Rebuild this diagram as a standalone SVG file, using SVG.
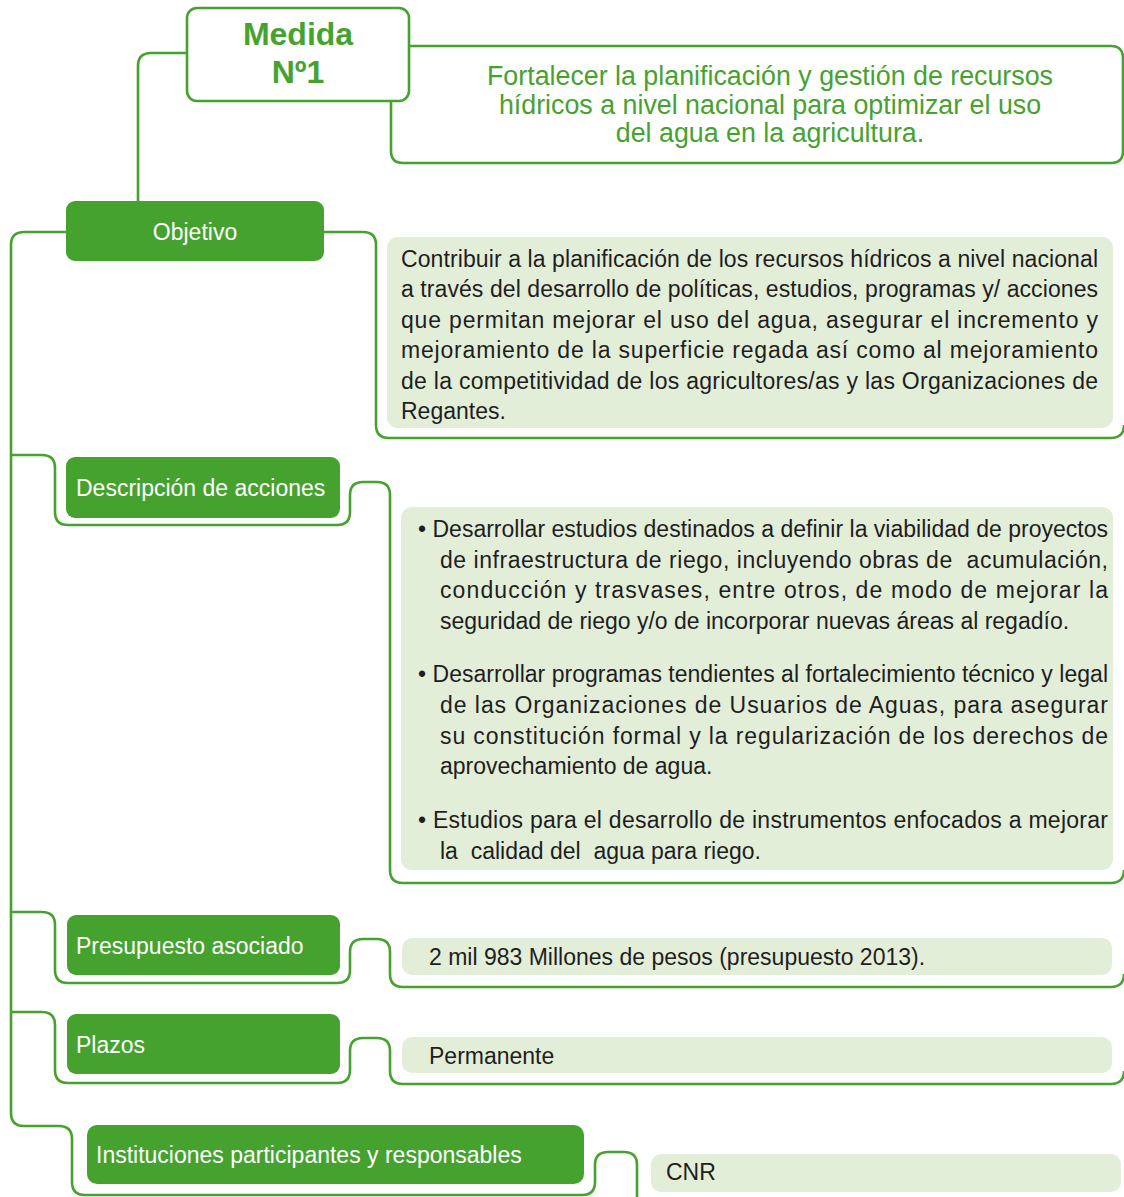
<svg xmlns="http://www.w3.org/2000/svg" width="1124" height="1197" viewBox="0 0 1124 1197">
<style>
.ln{fill:none;stroke:#46a22f;stroke-width:2.6;stroke-linejoin:round}
.lab{fill:#46a22f}
.labt{font-family:"Liberation Sans",Arial,sans-serif;font-size:23px;fill:#ffffff}
.box{fill:#e3eed9}
.t{font-family:"Liberation Sans",Arial,sans-serif;font-size:23px;fill:#1e1e1e;white-space:pre}
.gt{font-family:"Liberation Sans",Arial,sans-serif;font-size:26.8px;fill:#46a22f;text-anchor:middle}
.mt{font-family:"Liberation Sans",Arial,sans-serif;font-size:32px;font-weight:bold;fill:#46a22f;text-anchor:middle}
</style>
<rect width="1124" height="1197" fill="#ffffff"/>
<g id="connectors">
<path class="ln" d="M187,53 H151 Q138,53 138,66 V201"/>
<path class="ln" d="M409,46 H1111 Q1123,46 1123,58 V151 Q1123,163 1111,163 H403 Q391,163 391,151 V101"/>
<path class="ln" d="M66,232 H24 Q11,232 11,245 V1113 Q11,1126 24,1126 H59 Q72,1126 72,1139 V1182 Q72,1195 85,1195 H582 Q595,1195 595,1182 V1165 Q595,1152 608,1152 H624 Q637,1152 637,1165 V1200"/>
<path class="ln" d="M324,232 H363 Q376,232 376,245 V425 Q376,438 389,438 H1111 Q1124,438 1124,425"/>
<path class="ln" d="M11,455 H42 Q55,455 55,468 V512 Q55,525 68,525 H337 Q350,525 350,512 V495 Q350,482 363,482 H377 Q390,482 390,495 V870 Q390,883 403,883 H1111 Q1124,883 1124,870"/>
<path class="ln" d="M11,912 H42 Q55,912 55,925 V970 Q55,983 68,983 H337 Q350,983 350,970 V952 Q350,939 363,939 H377 Q390,939 390,952 V974 Q390,987 403,987 H1111 Q1124,987 1124,974"/>
<path class="ln" d="M11,1012 H42 Q55,1012 55,1025 V1070 Q55,1083 68,1083 H337 Q350,1083 350,1070 V1051 Q350,1038 363,1038 H377 Q390,1038 390,1051 V1071 Q390,1084 403,1084 H1111 Q1124,1084 1124,1071"/>
</g>
<g id="medida">
<rect x="187" y="8" width="222" height="93" rx="10" fill="#ffffff" stroke="#46a22f" stroke-width="2.6"/>
<text class="mt" x="298" y="45">Medida</text>
<text class="mt" x="298" y="83">Nº1</text>
</g>
<g id="titulo">
<text class="gt" x="770" y="85">Fortalecer la planificación y gestión de recursos</text>
<text class="gt" x="770" y="114">hídricos a nivel nacional para optimizar el uso</text>
<text class="gt" x="770" y="142">del agua en la agricultura.</text>
</g>
<g id="objetivo">
<rect class="lab" x="66" y="201" width="258" height="60" rx="9"/>
<text class="labt" x="195" y="240" text-anchor="middle">Objetivo</text>
</g>
<g id="objetivo-texto">
<rect class="box" x="387" y="237" width="726" height="191" rx="11"/>
<text class="t" x="401" y="267" textLength="697" lengthAdjust="spacing">Contribuir a la planificación de los recursos hídricos a nivel nacional</text>
<text class="t" x="401" y="297" textLength="697" lengthAdjust="spacing">a través del desarrollo de políticas, estudios, programas y/ acciones</text>
<text class="t" x="401" y="328" textLength="697" lengthAdjust="spacing">que permitan mejorar el uso del agua, asegurar el incremento y</text>
<text class="t" x="401" y="358" textLength="697" lengthAdjust="spacing">mejoramiento de la superficie regada así como al mejoramiento</text>
<text class="t" x="401" y="389" textLength="697" lengthAdjust="spacing">de la competitividad de los agricultores/as y las Organizaciones de</text>
<text class="t" x="401" y="419">Regantes.</text>
</g>
<g id="descripcion">
<rect class="lab" x="66" y="457" width="274" height="61" rx="9"/>
<text class="labt" x="76" y="496">Descripción de acciones</text>
</g>
<g id="descripcion-texto">
<rect class="box" x="401" y="507" width="712" height="363" rx="11"/>
<text class="t" x="418" y="537" textLength="690" lengthAdjust="spacing">• Desarrollar estudios destinados a definir la viabilidad de proyectos</text>
<text class="t" x="440" y="568" textLength="668" lengthAdjust="spacing">de infraestructura de riego, incluyendo obras de  acumulación,</text>
<text class="t" x="440" y="598" textLength="668" lengthAdjust="spacing">conducción y trasvases, entre otros, de modo de mejorar la</text>
<text class="t" x="440" y="629">seguridad de riego y/o de incorporar nuevas áreas al regadío.</text>
<text class="t" x="418" y="682" textLength="690" lengthAdjust="spacing">• Desarrollar programas tendientes al fortalecimiento técnico y legal</text>
<text class="t" x="440" y="713" textLength="668" lengthAdjust="spacing">de las Organizaciones de Usuarios de Aguas, para asegurar</text>
<text class="t" x="440" y="744" textLength="668" lengthAdjust="spacing">su constitución formal y la regularización de los derechos de</text>
<text class="t" x="440" y="774">aprovechamiento de agua.</text>
<text class="t" x="418" y="828" textLength="690" lengthAdjust="spacing">• Estudios para el desarrollo de instrumentos enfocados a mejorar</text>
<text class="t" x="440" y="859">la  calidad del  agua para riego.</text>
</g>
<g id="presupuesto">
<rect class="lab" x="67" y="915" width="273" height="60" rx="9"/>
<text class="labt" x="76" y="954">Presupuesto asociado</text>
</g>
<g id="presupuesto-texto">
<rect class="box" x="402" y="938" width="710" height="37" rx="10"/>
<text class="t" x="429" y="965">2 mil 983 Millones de pesos (presupuesto 2013).</text>
</g>
<g id="plazos">
<rect class="lab" x="67" y="1014" width="273" height="60" rx="9"/>
<text class="labt" x="76" y="1053">Plazos</text>
</g>
<g id="plazos-texto">
<rect class="box" x="402" y="1037" width="710" height="36" rx="10"/>
<text class="t" x="429" y="1064">Permanente</text>
</g>
<g id="instituciones">
<rect class="lab" x="87" y="1125" width="497" height="59" rx="10"/>
<text class="labt" x="96" y="1163">Instituciones participantes y responsables</text>
</g>
<g id="instituciones-texto">
<rect class="box" x="651" y="1154" width="470" height="38" rx="10"/>
<text class="t" x="666" y="1180">CNR</text>
</g>
</svg>
